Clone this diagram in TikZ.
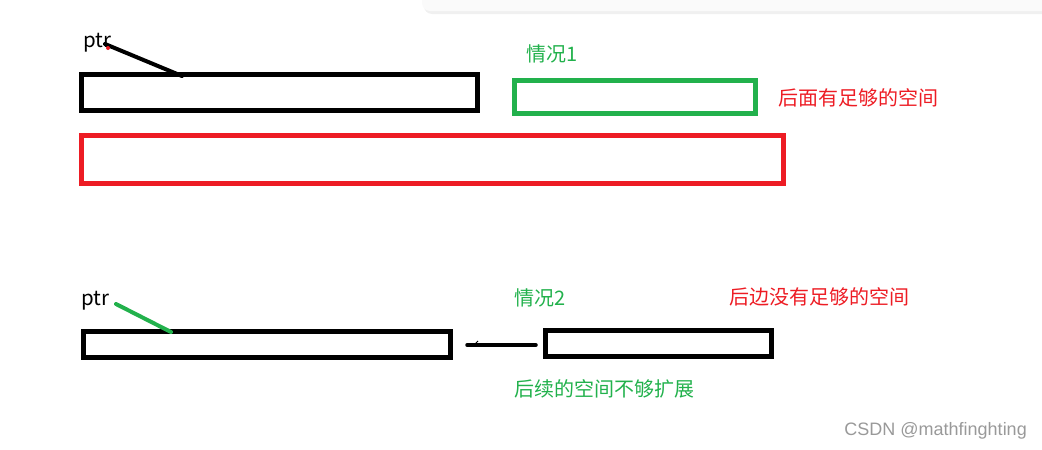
\documentclass[tikz,border=0pt]{standalone}
\usepackage{fontspec}
\setmainfont{Noto Sans CJK SC}
\newfontfamily\markfont{Liberation Sans}
\usetikzlibrary{positioning}

\definecolor{paintgreen}{RGB}{34,177,76}
\definecolor{paintred}{RGB}{237,28,36}

\tikzset{
  blockbox/.style={draw=black, line width=5pt, inner sep=0pt},
  greenbox/.style={draw=paintgreen, line width=5pt, inner sep=0pt},
  redbox/.style={draw=paintred, line width=5pt, inner sep=0pt},
  ptrtext/.style={font=\fontsize{20.5}{24}\selectfont, inner sep=0pt, anchor=west},
  casetext/.style={text=paintgreen, font=\fontsize{20}{24}\selectfont, inner sep=0pt, anchor=west},
  notetext/.style={text=paintred, font=\fontsize{20}{24}\selectfont, inner sep=0pt, anchor=west}
}

\begin{document}
\begin{tikzpicture}[x=1pt,y=-1pt]
            \useasboundingbox (0,0) rectangle (1042,450);

            % toolbar edge at the top
            \fill[black!6, rounded corners=8pt] (424,-12) rectangle (1060,14);
            \fill[black!2, rounded corners=8pt] (422,-12) rectangle (1060,11);

            % case 1
            \node[ptrtext] (ptrA) at (83,43) {ptr};
            \node[blockbox, minimum width=396pt, minimum height=36pt] (oldA) at (279,92.5) {};
            \node[greenbox, minimum width=241pt, minimum height=33pt] (newA) at (634.5,96.5) {};
            \node[redbox, minimum width=702pt, minimum height=48pt] (bigA) at (432,159) {};
            \node[casetext] (caseA) at (526,54) {情况1};
            \node[notetext] (noteA) at (778,98) {后面有足够的空间};

            \coordinate (tipA) at (105,44);
            \coordinate (endA) at (182,76);
            \draw[line width=4pt, line cap=round] (tipA) -- (endA);
            \fill[paintred] (108,48) circle (2pt);

            % case 2
            \node[ptrtext] (ptrB) at (81,301) {ptr};
            \node[blockbox, minimum width=367pt, minimum height=26pt] (oldB) at (266.5,344) {};
            \node[blockbox, minimum width=226pt, minimum height=26pt] (newB) at (658,343) {};
            \node[casetext] (caseB) at (514,298) {情况2};
            \node[notetext] (noteB) at (729,297) {后边没有足够的空间};
            \node[casetext] (noteC) at (514,389) {后续的空间不够扩展};

            \coordinate (tipB) at (116,304);
            \coordinate (endB) at (171,332);
            \draw[paintgreen, line width=4pt, line cap=round] (tipB) -- (endB);

            \coordinate (gapL) at (467,345);
            \coordinate (gapR) at (536,345);
            \draw[line width=3.5pt, line cap=round] (gapL) -- (gapR);
            \draw[line width=0.8pt] (475,344) -- (478,341);

            \node[text=black!40, font=\markfont\fontsize{18}{21}\selectfont, anchor=east, inner sep=0pt] (mark) at (1027,431) {CSDN @mathfinghting};
        \end{tikzpicture}
\end{document}
